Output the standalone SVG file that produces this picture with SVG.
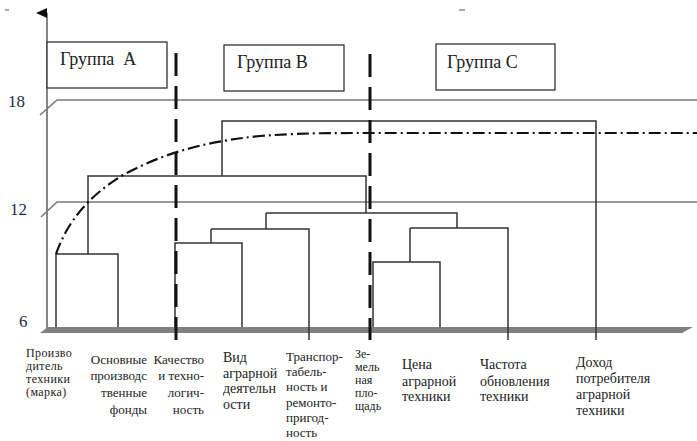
<svg xmlns="http://www.w3.org/2000/svg" width="697" height="441" viewBox="0 0 697 441">
<style>
.ref{stroke:#7a7a7a;stroke-width:1.6;fill:none}
.ax{stroke:#666;stroke-width:1.6;fill:none}
.dg{stroke:#333;stroke-width:1.5;fill:none}
.gb{fill:#fff;stroke:#333;stroke-width:1.3}
text{font-family:"Liberation Serif","Times New Roman","DejaVu Serif",serif}
.gt{font-size:18px;fill:#222}
.sc{font-size:17px;fill:#1c2b4a}
.lb{font-size:13px;fill:#222}
.lbs{font-size:12px;fill:#222}
.lb1{font-size:12px;fill:#222;letter-spacing:0.4px}
.lb2{font-size:14px;fill:#222}
.sep{stroke:#111;stroke-width:3;stroke-dasharray:23 10;fill:none}
.curve{stroke:#111;stroke-width:2.2;stroke-dasharray:12 4 2 4;fill:none}
</style>
<defs>
<marker id="arr" markerWidth="10" markerHeight="12" refX="5" refY="11" orient="auto" markerUnits="userSpaceOnUse">
<path d="M0,11 L5,0 L10,11 Z" fill="#111"/>
</marker>
</defs>
<rect width="697" height="441" fill="#fff"/>
<line x1="5" y1="10" x2="9" y2="10" stroke="#555" stroke-width="1"/>
<line x1="459" y1="10" x2="465" y2="10" stroke="#555" stroke-width="1"/>

<g id="axis">
<line class="ax" x1="47" y1="330" x2="47" y2="13" marker-end="url(#arr)"/>
<polygon points="48,327 693,327 682,333 40,333" fill="#808080"/>
<polyline class="ref" points="40,115 57,100 697,100"/>
<polyline class="ref" points="41,217 57,202 697,202"/>
<text class="sc" x="8" y="107">18</text>
<text class="sc" x="10" y="215">12</text>
<text class="sc" x="19" y="327">6</text>
</g>

<g id="groupA"><rect class="gb" x="47" y="42" width="120" height="46"/><text class="gt" x="60" y="65" xml:space="preserve">Группа  А</text></g>
<g id="groupB"><rect class="gb" x="224" y="45" width="120" height="46"/><text class="gt" x="237" y="68">Группа В</text></g>
<g id="groupC"><rect class="gb" x="436" y="44" width="119" height="46"/><text class="gt" x="447" y="68">Группа С</text></g>

<g id="connectors">
<path class="dg" d="M56,327 V254 H118 V327"/>
<path class="dg" d="M88,254 V176 H366 V213"/>
<path class="dg" d="M266,213 H457 V228"/>
<path class="dg" d="M266,213 V229"/>
<path class="dg" d="M211,229 H309 V340"/>
<path class="dg" d="M211,229 V243"/>
<path class="dg" d="M175,327 V243 H242 V327"/>
<path class="dg" d="M410,228 H508 V340"/>
<path class="dg" d="M410,228 V262"/>
<path class="dg" d="M373,327 V262 H440 V327"/>
<path class="dg" d="M222,176 V121 H596 V340"/>
<path class="curve" d="M56,254 C68,220 90,195 123,175 C160,155 200,142 260,136 C300,133 330,133 360,133 L697,133"/>
<line class="sep" x1="176" y1="53" x2="176" y2="340"/>
<line class="sep" x1="370" y1="54" x2="370" y2="340"/>
</g>

<g id="leaf1"><text class="lb1"><tspan x="26" y="357">Произво</tspan><tspan x="26" y="370">дитель</tspan><tspan x="26" y="383">техники</tspan><tspan x="26" y="396">(марка)</tspan></text></g>
<g id="leaf2"><text class="lb" text-anchor="end"><tspan x="147" y="364">Основные</tspan><tspan x="147" y="380">производс</tspan><tspan x="147" y="397">твенные</tspan><tspan x="147" y="414">фонды</tspan></text></g>
<g id="leaf3"><text class="lb" text-anchor="end"><tspan x="204" y="364">Качество</tspan><tspan x="204" y="380">и техно-</tspan><tspan x="204" y="397">логич-</tspan><tspan x="204" y="414">ность</tspan></text></g>
<g id="leaf4"><text class="lb2"><tspan x="223" y="362">Вид</tspan><tspan x="223" y="378">аграрной</tspan><tspan x="223" y="393">деятельн</tspan><tspan x="223" y="409">ости</tspan></text></g>
<g id="leaf5"><text class="lb"><tspan x="286" y="361">Транспор-</tspan><tspan x="286" y="376">табель-</tspan><tspan x="286" y="391">ность и</tspan><tspan x="286" y="407">ремонто-</tspan><tspan x="286" y="422">пригод-</tspan><tspan x="286" y="437">ность</tspan></text></g>
<g id="leaf6"><text class="lbs"><tspan x="355" y="358">Зе-</tspan><tspan x="355" y="371">мель</tspan><tspan x="355" y="384">ная</tspan><tspan x="355" y="397">пло-</tspan><tspan x="355" y="410">щадь</tspan></text></g>
<g id="leaf7"><text class="lb2"><tspan x="402" y="369">Цена</tspan><tspan x="402" y="386">аграрной</tspan><tspan x="402" y="401">техники</tspan></text></g>
<g id="leaf8"><text class="lb2"><tspan x="480" y="369">Частота</tspan><tspan x="480" y="386">обновления</tspan><tspan x="480" y="401">техники</tspan></text></g>
<g id="leaf9"><text class="lb2"><tspan x="576" y="367">Доход</tspan><tspan x="576" y="383">потребителя</tspan><tspan x="576" y="399">аграрной</tspan><tspan x="576" y="415">техники</tspan></text></g>
</svg>
